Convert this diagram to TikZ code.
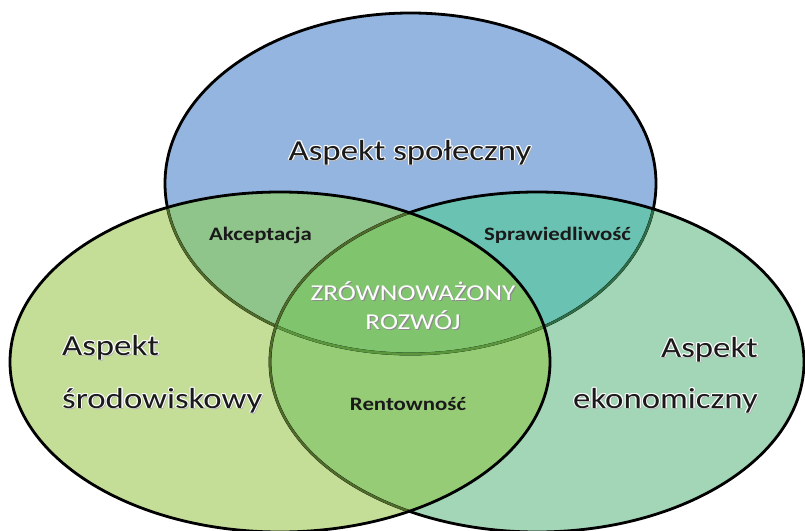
\documentclass[tikz,border=0pt]{standalone}
\usepackage{fontspec}
\setmainfont{Carlito}
\definecolor{cTop}{HTML}{93B5DF}
\definecolor{cLeft}{HTML}{C4DE98}
\definecolor{cRight}{HTML}{A3D5B7}
\definecolor{cTL}{HTML}{8FC48A}
\definecolor{cTR}{HTML}{6AC3B2}
\definecolor{cLR}{HTML}{96CC76}
\definecolor{cMid}{HTML}{80C46E}
\definecolor{lOlive}{HTML}{4F6B2A}
\definecolor{lTeal}{HTML}{2D6E46}
\definecolor{lMid}{HTML}{5A963C}
\definecolor{txtdark}{HTML}{1A1A1A}
\newcommand\halotxt[1]{%
\makebox[0pt][l]{\color{black!30}\hspace*{1.3pt}\raisebox{-1.6pt}{#1}}%
\makebox[0pt][l]{\color{white}\hspace*{-0.9pt}#1}%
\makebox[0pt][l]{\color{white}\hspace*{0.9pt}#1}%
\makebox[0pt][l]{\color{white}\raisebox{0.9pt}{#1}}%
\makebox[0pt][l]{\color{white}\raisebox{-0.9pt}{#1}}%
\makebox[0pt][l]{\color{white}\hspace*{-0.65pt}\raisebox{0.65pt}{#1}}%
\makebox[0pt][l]{\color{white}\hspace*{0.65pt}\raisebox{0.65pt}{#1}}%
\makebox[0pt][l]{\color{white}\hspace*{-0.65pt}\raisebox{-0.65pt}{#1}}%
\makebox[0pt][l]{\color{white}\hspace*{0.65pt}\raisebox{-0.65pt}{#1}}%
{\color{txtdark}#1}}
\newcommand\shadowwhite[1]{%
\makebox[0pt][l]{\color{black!45}\hspace*{1pt}\raisebox{-1.2pt}{#1}}%
{\color{white}#1}}
\begin{document}
\begin{tikzpicture}[x=1pt,y=-1pt,
  outerline/.style={draw=black, line width=2.8pt},
  innerline/.style={line width=2.4pt},
  bigtext/.style={font=\fontsize{29}{34}\selectfont, inner sep=0pt},
  smalltext/.style={font=\bfseries\fontsize{19}{23}\selectfont, inner sep=0pt, anchor=base, text=txtdark},
  coretext/.style={font=\fontsize{22.7}{27}\selectfont, inner sep=0pt, anchor=base}]
\useasboundingbox (0,0) rectangle (805,530);
\def\TopE{(410.5,183.5) ellipse [x radius=245.5pt, y radius=170.5pt]}
\def\LeftE{(280,362) ellipse [x radius=270pt, y radius=170pt]}
\def\RightE{(537,362) ellipse [x radius=267pt, y radius=170pt]}
% region fills
\fill[cTop] \TopE;
\fill[cRight] \RightE;
\fill[cLeft] \LeftE;
\begin{scope}
  \clip \TopE;
  \fill[cTR] \RightE;
  \fill[cTL] \LeftE;
\end{scope}
\begin{scope}
  \clip \LeftE;
  \fill[cLR] \RightE;
\end{scope}
\begin{scope}
  \clip \TopE;
  \clip \LeftE;
  \fill[cMid] \RightE;
\end{scope}
% borders
\draw[outerline] \TopE;
\begin{scope}
  \clip \RightE;
  \draw[innerline, draw=lTeal] \TopE;
\end{scope}
\begin{scope}
  \clip \LeftE;
  \draw[innerline, draw=lOlive] \TopE;
\end{scope}
\begin{scope}
  \clip \LeftE;
  \clip \RightE;
  \draw[innerline, draw=lMid] \TopE;
\end{scope}
\draw[outerline] \RightE;
\begin{scope}
  \clip \LeftE;
  \draw[innerline, draw=lOlive] \RightE;
\end{scope}
\draw[outerline] \LeftE;
% labels
\node[bigtext, anchor=base] (soc) at (410,160) {\scalebox{1.2}[1]{\halotxt{Aspekt społeczny}}};
\node[bigtext, anchor=base west] (env1) at (62,355) {\scalebox{1.2}[1]{\halotxt{Aspekt}}};
\node[bigtext, anchor=base west] (env2) at (62,408) {\scalebox{1.2}[1]{\halotxt{środowiskowy}}};
\node[bigtext, anchor=base east] (eco1) at (758,357) {\scalebox{1.2}[1]{\halotxt{Aspekt}}};
\node[bigtext, anchor=base east] (eco2) at (758,408) {\scalebox{1.2}[1]{\halotxt{ekonomiczny}}};
\node[smalltext] (akc) at (260.5,240) {\scalebox{1.2}[1]{Akceptacja}};
\node[smalltext] (spr) at (557.5,240) {\scalebox{1.2}[1]{Sprawiedliwość}};
\node[smalltext] (ren) at (408,410) {\scalebox{1.2}[1]{Rentowność}};
\node[coretext] (zr1) at (413,300) {\scalebox{1.2}[1]{\shadowwhite{ZRÓWNOWAŻONY}}};
\node[coretext] (zr2) at (413,329) {\scalebox{1.2}[1]{\shadowwhite{ROZWÓJ}}};
\end{tikzpicture}
\end{document}
